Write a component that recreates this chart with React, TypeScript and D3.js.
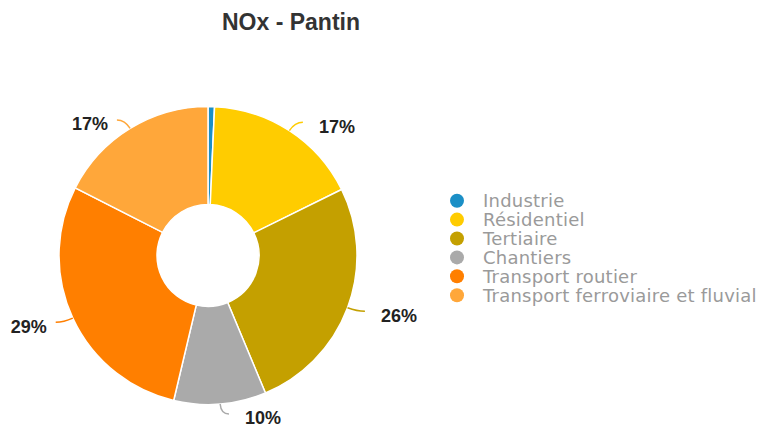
import React from "react";
import * as d3 from "d3";

const categories = [
  "Industrie",
  "Résidentiel",
  "Tertiaire",
  "Chantiers",
  "Transport routier",
  "Transport ferroviaire et fluvial",
];
const values = [0.7, 17.0, 26.0, 10.0, 28.8, 17.5];
const labels = ["", "17%", "26%", "10%", "29%", "17%"];
const colors = ["#1b8fc6", "#ffcc00", "#c4a000", "#aaaaaa", "#ff7f00", "#ffa73a"];
const title = "NOx - Pantin";

export default function App() {
  const W = 757;
  const H = 426;
  const cx = 208;
  const cy = 255.5;
  const R = 149;
  const r0 = 51;

  const pie = d3.pie<number>().sort(null).value((d) => d);
  const arcs = pie(values);
  const arcGen = d3.arc<d3.PieArcDatum<number>>().innerRadius(r0).outerRadius(R);

  return (
    <svg
      width={W}
      height={H}
      style={{ position: "absolute", left: 0, top: 0, background: "#fff" }}
    >
      <text
        x={291}
        y={30}
        textAnchor="middle"
        fontFamily="Liberation Sans, Arial, sans-serif"
        fontWeight="bold"
        fontSize={23}
        fill="#333"
      >
        {title}
      </text>
      <g transform={`translate(${cx},${cy})`}>
        {arcs.map((a, i) => (
          <path key={i} d={arcGen(a) || ""} fill={colors[i]} stroke="#fff" strokeWidth={1.5} />
        ))}
        {arcs.map((a, i) => {
          if (!labels[i]) return null;
          const mid = (a.startAngle + a.endAngle) / 2;
          const ux = Math.sin(mid);
          const uy = -Math.cos(mid);
          const sign = ux >= 0 ? 1 : -1;
          const p0x = ux * R;
          const p0y = uy * R;
          const cxp = ux * (R + 10);
          const cyp = uy * (R + 10);
          const p1x = cxp + sign * 8;
          const p1y = cyp;
          const lx = sign > 0 ? p1x + 16 : p1x - 9;
          const ly = p1y + 4;
          return (
            <g key={"l" + i}>
              <path
                d={`M${p0x},${p0y} Q${cxp},${cyp} ${p1x},${p1y}`}
                fill="none"
                stroke={colors[i]}
                strokeWidth={1.5}
              />
              <text
                x={lx}
                y={ly}
                dy="0.36em"
                textAnchor={sign > 0 ? "start" : "end"}
                fontFamily="Liberation Sans, Arial, sans-serif"
                fontWeight="bold"
                fontSize={18}
                fill="#222"
              >
                {labels[i]}
              </text>
            </g>
          );
        })}
      </g>
      <g transform="translate(457,200.7)">
        {categories.map((c, i) => (
          <g key={c} transform={`translate(0,${i * 18.9})`}>
            <circle cx={0} cy={0} r={7} fill={colors[i]} />
            <text
              x={26}
              y={0}
              dy="0.36em"
              fontFamily="DejaVu Sans, Verdana, sans-serif"
              fontSize={18}
              letterSpacing={0.23}
              fill="#9a9a9a"
            >
              {c}
            </text>
          </g>
        ))}
      </g>
    </svg>
  );
}
